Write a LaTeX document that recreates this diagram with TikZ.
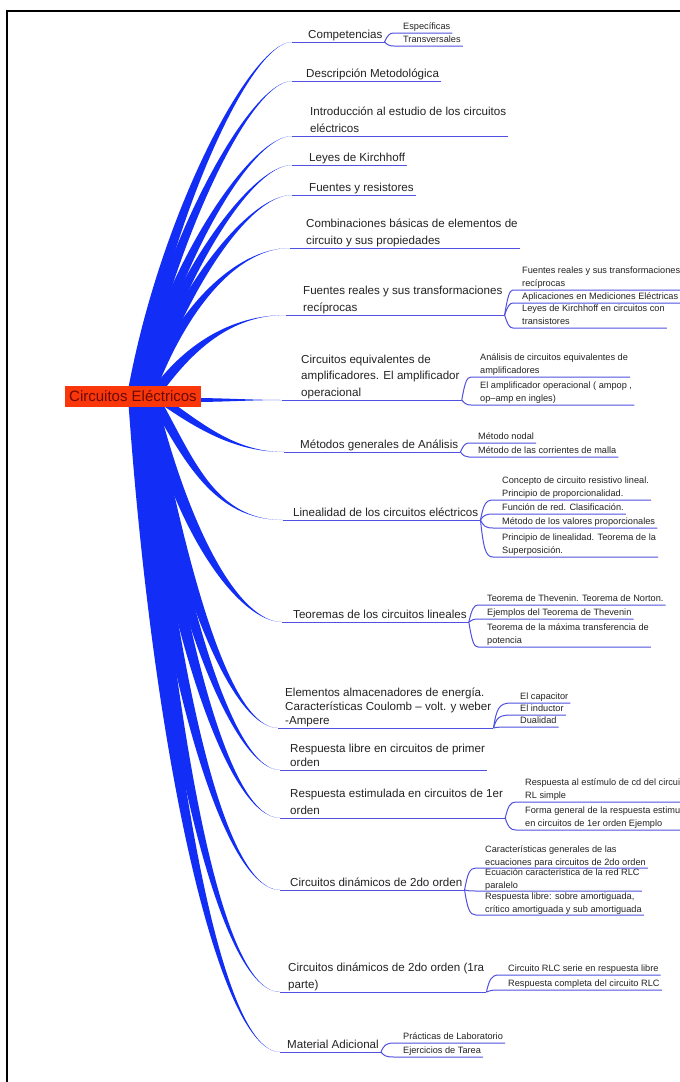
\documentclass[tikz,border=0pt]{standalone}
\usepackage{fontspec}
\setmainfont{Liberation Sans}
\usetikzlibrary{positioning,calc,backgrounds}

\definecolor{limbblue}{RGB}{18,45,245}
\definecolor{lineblue}{RGB}{80,80,225}
\definecolor{rootred}{RGB}{250,55,10}
\definecolor{rootink}{RGB}{105,10,5}
\definecolor{ink}{RGB}{35,35,35}

% thick tapering branch: anchor, shift, tip, out angle, out length, in length, half width
\newcommand{\limb}[7]{%
  \fill[limbblue] ($(#1)+#2+(#4+90:#7)$) .. controls +(#4:#5) and +(-#6,0) .. (#3)
    .. controls +(-#6,0) and +(#4:#5) .. ($(#1)+#2+(#4-90:#7)$) -- cycle;}
% thin fork line from a topic to one of its items
\newcommand{\twig}[2]{%
  \draw[uline] let \p1=(#1), \p2=($(#2.south west)+(-7,0)$) in
    (\p1) .. controls (\x1+3pt,{0.25*\y1+0.75*\y2}) and (\x1+5pt,\y2) .. (\p2) -- (#2.south east);}

\begin{document}
\begin{tikzpicture}[x=1pt, y=1pt,
    rootbox/.style={fill=rootred, text=rootink, minimum width=136pt, minimum height=21pt,
      inner sep=0pt, font=\fontsize{15}{16}\selectfont},
    topic/.style={anchor=south west, inner xsep=2pt, inner ysep=3.5pt, text depth=0pt,
      align=left, text=ink, font=\fontsize{11.6}{16.5}\selectfont},
    item/.style={anchor=south west, inner xsep=2pt, inner ysep=3pt, text depth=0pt,
      align=left, text=ink, font=\fontsize{9.2}{13.5}\selectfont},
    uline/.style={lineblue, line width=1pt}]
  \useasboundingbox (0,0) rectangle (680,-1082);

  \node[rootbox] (root) at (133,-396.5) {Circuitos Eléctricos};

  % topics
  \node[topic] (m1) at (306,-42) {Competencias};
  \node[topic] (m2) at (304,-81) {Descripción Metodológica};
  \node[topic] (m3) at (308,-136) {Introducción al estudio de los circuitos\\eléctricos};
  \node[topic] (m4) at (307,-165) {Leyes de Kirchhoff};
  \node[topic] (m5) at (307,-195) {Fuentes y resistores};
  \node[topic] (m6) at (304,-248) {Combinaciones básicas de elementos de\\circuito y sus propiedades};
  \node[topic] (m7) at (301,-315) {Fuentes reales y sus transformaciones\\recíprocas};
  \node[topic] (m8) at (299,-400) {Circuitos equivalentes de\\amplificadores. El amplificador\\operacional};
  \node[topic] (m9) at (298,-452) {Métodos generales de Análisis};
  \node[topic] (m10) at (291,-520) {Linealidad de los circuitos eléctricos};
  \node[topic] (m11) at (291,-622) {Teoremas de los circuitos lineales};
  \node[topic, font=\fontsize{11.6}{14}\selectfont] (m12) at (283,-728) {Elementos almacenadores de energía.\\Características Coulomb – volt. y weber\\-Ampere};
  \node[topic, font=\fontsize{11.6}{14}\selectfont] (m13) at (288,-770) {Respuesta libre en circuitos de primer\\orden};
  \node[topic] (m14) at (288,-818) {Respuesta estimulada en circuitos de 1er\\orden};
  \node[topic] (m15) at (288,-890) {Circuitos dinámicos de 2do orden};
  \node[topic] (m16) at (286,-992) {Circuitos dinámicos de 2do orden (1ra\\parte)};
  \node[topic] (m17) at (285,-1052) {Material Adicional};

  % branch tips
  \coordinate (t1) at (292,-42);
  \coordinate (t2) at (292,-81);
  \coordinate (t3) at (292,-136);
  \coordinate (t4) at (292,-165);
  \coordinate (t5) at (292,-195);
  \coordinate (t6) at (290,-248);
  \coordinate (t7) at (286,-315);
  \coordinate (t8) at (282,-400);
  \coordinate (t9) at (284,-452);
  \coordinate (t10) at (283,-520);
  \coordinate (t11) at (282,-622);
  \coordinate (t12) at (278,-728);
  \coordinate (t13) at (280,-770);
  \coordinate (t14) at (280,-818);
  \coordinate (t15) at (280,-890);
  \coordinate (t16) at (280,-992);
  \coordinate (t17) at (280,-1052);

  % items
  \node[item] (s1a) at (401,-33) {Específicas};
  \node[item] (s1b) at (401,-46) {Transversales};
  \node[item] (s7a) at (520,-290) {Fuentes reales y sus transformaciones\\recíprocas};
  \node[item] (s7b) at (520,-303) {Aplicaciones en Mediciones Eléctricas};
  \node[item] (s7c) at (520,-328) {Leyes de Kirchhoff en circuitos con\\transistores};
  \node[item] (s8a) at (478,-377) {Análisis de circuitos equivalentes de\\amplificadores};
  \node[item] (s8b) at (478,-405) {El amplificador operacional ( ampop ,\\op–amp en ingles)};
  \node[item] (s9a) at (476,-443) {Método nodal};
  \node[item] (s9b) at (476,-457) {Método de las corrientes de malla};
  \node[item] (s10a) at (500,-500) {Concepto de circuito resistivo lineal.\\Principio de proporcionalidad.};
  \node[item] (s10b) at (500,-514) {Función de red. Clasificación.};
  \node[item] (s10c) at (500,-528) {Método de los valores proporcionales};
  \node[item] (s10d) at (500,-557) {Principio de linealidad. Teorema de la\\Superposición.};
  \node[item] (s11a) at (485,-605) {Teorema de Thevenin. Teorema de Norton.};
  \node[item] (s11b) at (485,-619) {Ejemplos del Teorema de Thevenin};
  \node[item] (s11c) at (485,-647) {Teorema de la máxima transferencia de\\potencia};
  \node[item] (s12a) at (518,-703) {El capacitor};
  \node[item] (s12b) at (518,-715) {El inductor};
  \node[item] (s12c) at (518,-727) {Dualidad};
  \node[item] (s14a) at (523,-802) {Respuesta al estímulo de cd del circuito\\RL simple};
  \node[item] (s14b) at (523,-830) {Forma general de la respuesta estimulada\\en circuitos de 1er orden Ejemplo};
  \node[item, font=\fontsize{9.2}{12.5}\selectfont, inner ysep=2.5pt] (s15a) at (483,-868) {Características generales de las\\ecuaciones para circuitos de 2do orden};
  \node[item, font=\fontsize{9.2}{12.5}\selectfont, inner ysep=2.5pt] (s15b) at (483,-891) {Ecuación característica de la red RLC\\paralelo};
  \node[item, font=\fontsize{9.2}{12.5}\selectfont, inner ysep=2.5pt] (s15c) at (483,-915) {Respuesta libre: sobre amortiguada,\\crítico amortiguada y sub amortiguada};
  \node[item] (s16a) at (506,-975) {Circuito RLC serie en respuesta libre};
  \node[item] (s16b) at (506,-990) {Respuesta completa del circuito RLC};
  \node[item] (s17a) at (401,-1043) {Prácticas de Laboratorio};
  \node[item] (s17b) at (401,-1057) {Ejercicios de Tarea};

  % frame
  \draw[line width=1.5pt] (680,-11) -- (7,-11) -- (7,-1082);

  % underlines
  \foreach \k in {1,...,17}
    \draw[uline] (t\k) -- (m\k.south east);

  % forks
  \foreach \s in {s1a,s1b} \twig{m1.south east}{\s};
  \foreach \s in {s7a,s7b,s7c} \twig{m7.south east}{\s};
  \foreach \s in {s8a,s8b} \twig{m8.south east}{\s};
  \foreach \s in {s9a,s9b} \twig{m9.south east}{\s};
  \foreach \s in {s10a,s10b,s10c,s10d} \twig{m10.south east}{\s};
  \foreach \s in {s11a,s11b,s11c} \twig{m11.south east}{\s};
  \foreach \s in {s12a,s12b,s12c} \twig{m12.south east}{\s};
  \foreach \s in {s14a,s14b} \twig{m14.south east}{\s};
  \foreach \s in {s15a,s15b,s15c} \twig{m15.south east}{\s};
  \foreach \s in {s16a,s16b} \twig{m16.south east}{\s};
  \foreach \s in {s17a,s17b} \twig{m17.south east}{\s};

  % main branches
  \begin{scope}[on background layer]
    \fill[white] (0,0) rectangle (680,-1082);
    \limb{root.center}{(0,0)}{t1}{80}{180}{42}{6}
    \limb{root.center}{(3,0)}{t2}{78}{160}{42}{6}
    \limb{root.center}{(6,0)}{t3}{76}{135}{42}{6}
    \limb{root.center}{(9,0)}{t4}{74}{120}{42}{6}
    \limb{root.center}{(12,0)}{t5}{72}{105}{45}{6}
    \limb{root.center}{(15,0)}{t6}{70}{90}{55}{5.5}
    \limb{root.center}{(20,0)}{t7}{55}{60}{55}{5}
    \limb{root.center}{(60,-3.5)}{t8}{0}{30}{30}{2}
    \limb{root.center}{(24,0)}{t9}{-35}{50}{50}{4}
    \limb{root.center}{(20,0)}{t10}{-60}{70}{70}{5}
    \limb{root.center}{(16,0)}{t11}{-76}{150}{40}{7}
    \limb{root.center}{(13,0)}{t12}{-79}{200}{45}{7.5}
    \limb{root.center}{(11,0)}{t13}{-81}{220}{45}{7.5}
    \limb{root.center}{(9,0)}{t14}{-82}{250}{50}{8}
    \limb{root.center}{(7,0)}{t15}{-84}{290}{55}{8}
    \limb{root.center}{(5,0)}{t16}{-85}{340}{60}{8}
    \limb{root.center}{(3,0)}{t17}{-86}{370}{60}{8}
  \end{scope}
\end{tikzpicture}
\end{document}
